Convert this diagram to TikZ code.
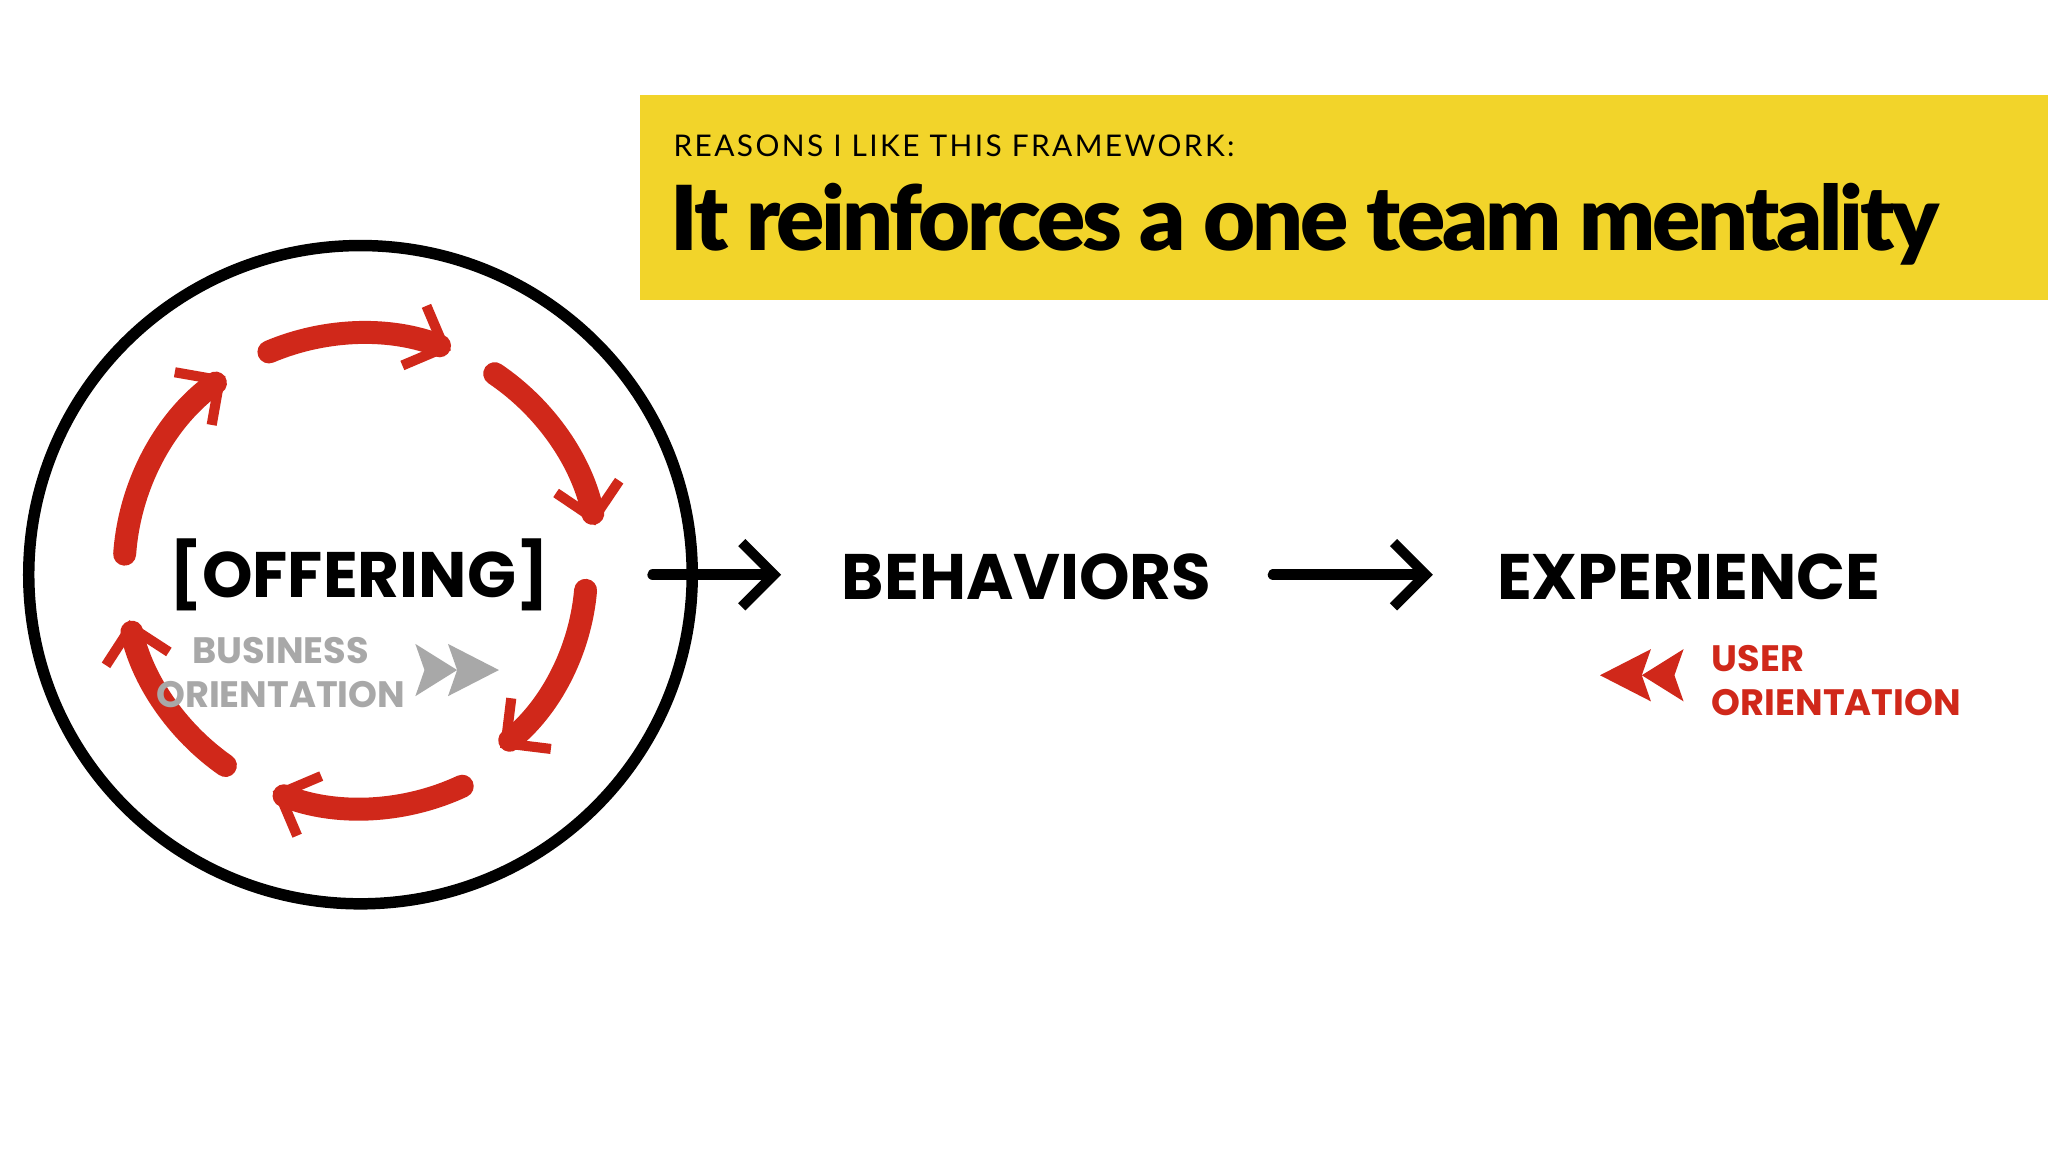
\documentclass[tikz,border=0pt]{standalone}
\usepackage{fontspec}
\setmainfont{Lato}
\newfontfamily\hand{Poppins}
\newfontfamily\blk{Lato Black}
\usetikzlibrary{arrows.meta}
\definecolor{ban}{HTML}{F2D42A}
\definecolor{rd}{HTML}{D0281A}
\definecolor{gr}{HTML}{A8A8A8}
\tikzset{
 redarc/.style={rd,line width=5pt,line cap=round,-{Straight Barb[length=7pt,width=14pt,line width=2.2pt]}},
 flow/.style={black,line width=2.5pt,line cap=round,-{Straight Barb[length=7pt,width=14pt,line width=2.2pt]}},
 bigw/.style={font=\hand\bfseries\fontsize{14}{14}\selectfont,inner sep=0pt},
 smallw/.style={font=\hand\bfseries\fontsize{8}{9.5}\selectfont,inner sep=0pt,align=left},
}
\begin{document}
\begin{tikzpicture}[x=0.01cm,y=0.01cm]
\useasboundingbox (0,0) rectangle (1568,-882);
\fill[white] (0,0) rectangle (1568,-882);
\fill[ban] (490,-73) rectangle (1568,-230);
\node[anchor=west,inner sep=0pt,font=\fontsize{6.5}{7}\selectfont\addfontfeature{LetterSpace=8}] (sub) at (515,-112) {REASONS I LIKE THIS FRAMEWORK:};
\node[anchor=west,inner sep=0pt,font=\blk\fontsize{19.5}{21}\selectfont\addfontfeature{LetterSpace=-3.5}] (title) at (513,-172) {It reinforces a one team mentality};
% circle
\draw[line width=2.5pt] (276,-440) ellipse (254 and 252);
% red arcs
\draw[redarc] (277,-437) ++(113:182) arc (113:68:182);
\draw[redarc] (277,-437) ++(56:182) arc (56:11:182);
\draw[redarc] (277,-437) ++(-5:172) arc (-5:-52:172);
\draw[redarc] (277,-437) ++(-65:182) arc (-65:-112:182);
\draw[redarc] (277,-437) ++(-125:182) arc (-125:-168:182);
\draw[redarc] (277,-437) ++(176:182) arc (176:125:182);
% words
\node[bigw] (off) at (275,-440) {[OFFERING]};
\node[bigw] (beh) at (786,-442) {BEHAVIORS};
\node[bigw] (exp) at (1293,-442) {EXPERIENCE};
\draw[flow] (500,-440) -- (598,-440);
\draw[flow] (975,-440) -- (1097,-440);
\node[smallw,gr,align=center] (bo) at (215,-515) {BUSINESS\\ORIENTATION};
\node[smallw,rd,anchor=west] (uo) at (1310,-521) {USER\\ORIENTATION};
% gray double arrow
\fill[gr] (318,-493) -- (350,-513) -- (318,-533) -- (325,-513) -- cycle;
\fill[gr] (343,-493) -- (382,-513) -- (343,-533) -- (350,-513) -- cycle;
% red double arrow
\fill[rd] (1289,-497) -- (1257,-517) -- (1289,-537) -- (1282,-517) -- cycle;
\fill[rd] (1264,-497) -- (1225,-517) -- (1264,-537) -- (1257,-517) -- cycle;
\end{tikzpicture}
\end{document}
